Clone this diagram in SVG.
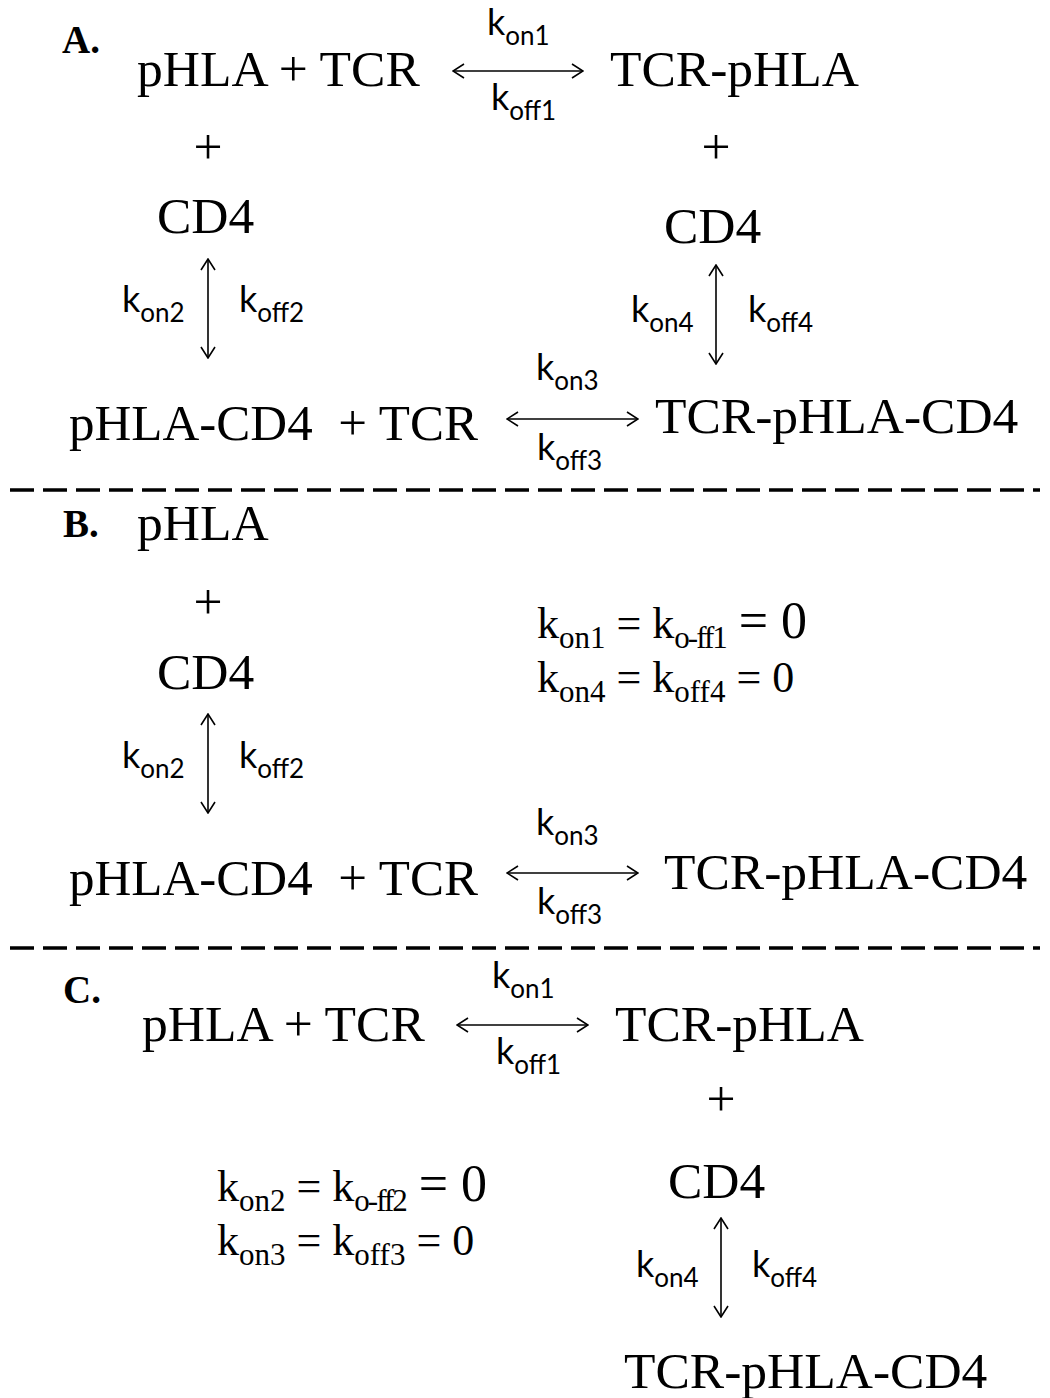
<svg xmlns="http://www.w3.org/2000/svg" width="1050" height="1398" viewBox="0 0 1050 1398">
<style>
.t{font-family:"Liberation Serif","Times New Roman",serif;font-size:51.5px;fill:#000;white-space:pre}
.t2{font-size:51px}
.lbl{font-family:"Liberation Serif","Times New Roman",serif;font-size:39px;font-weight:bold;fill:#000}
.k{font-family:Lato,"Open Sans",sans-serif;font-size:36px;fill:#000}
.ks{font-size:26px}
.eq{font-family:"Liberation Serif","Times New Roman",serif;font-size:44px;fill:#000;white-space:pre}
.es{font-size:31px}
.eb{font-size:52px}
.arr{stroke:#000;stroke-width:1.6;fill:none;marker-start:url(#ah);marker-end:url(#ah)}
.dash{stroke:#000;stroke-width:3.5;stroke-dasharray:24 9;fill:none}
</style>
<defs>
<marker id="ah" viewBox="0 0 13 16" refX="12" refY="8" markerWidth="13" markerHeight="16" markerUnits="userSpaceOnUse" orient="auto-start-reverse">
<path d="M1,1 L12,8 L1,15" fill="none" stroke="#000" stroke-width="1.6"/>
</marker>
</defs>
<rect width="1050" height="1398" fill="#fff"/>

<g id="connectors">
<line class="arr" x1="453" y1="71" x2="583" y2="71"/>
<line class="arr" x1="208" y1="259" x2="208" y2="358"/>
<line class="arr" x1="716" y1="265" x2="716" y2="364"/>
<line class="arr" x1="507" y1="419" x2="638" y2="419"/>
<line class="arr" x1="208" y1="714" x2="208" y2="813"/>
<line class="arr" x1="507" y1="873" x2="638" y2="873"/>
<line class="arr" x1="457" y1="1025" x2="588" y2="1025"/>
<line class="arr" x1="721" y1="1218" x2="721" y2="1317"/>
</g>

<g id="dividers">
<line class="dash" x1="10" y1="490" x2="1040" y2="490"/>
<line class="dash" x1="10" y1="948" x2="1040" y2="948"/>
</g>

<g id="sectionA">
<text id="labelA" class="lbl" x="62" y="53">A.</text>
<g id="A-pHLA-TCR"><text class="t" x="137" y="86">pHLA + TCR</text></g>
<g id="A-TCR-pHLA"><text class="t" x="610" y="86">TCR-pHLA</text></g>
<g id="A-plus1"><text class="t" x="208" y="164" text-anchor="middle">+</text></g>
<g id="A-plus2"><text class="t" x="716" y="164" text-anchor="middle">+</text></g>
<g id="A-CD4a"><text class="t" x="157" y="233">CD4</text></g>
<g id="A-CD4b"><text class="t" x="664" y="243">CD4</text></g>
<g id="A-pHLA-CD4-TCR"><text class="t t2" x="69" y="440">pHLA-CD4  + TCR</text></g>
<g id="A-TCR-pHLA-CD4"><text class="t" x="655" y="433">TCR-pHLA-CD4</text></g>
<text class="k" x="487" y="35">k<tspan class="ks" dy="10">on1</tspan></text>
<text class="k" x="491" y="110">k<tspan class="ks" dy="10">off1</tspan></text>
<text class="k" x="122" y="312">k<tspan class="ks" dy="10">on2</tspan></text>
<text class="k" x="239" y="312">k<tspan class="ks" dy="10">off2</tspan></text>
<text class="k" x="631" y="322">k<tspan class="ks" dy="10">on4</tspan></text>
<text class="k" x="748" y="322">k<tspan class="ks" dy="10">off4</tspan></text>
<text class="k" x="536" y="380">k<tspan class="ks" dy="10">on3</tspan></text>
<text class="k" x="537" y="460">k<tspan class="ks" dy="10">off3</tspan></text>
</g>

<g id="sectionB">
<text id="labelB" class="lbl" x="63" y="537">B.</text>
<g id="B-pHLA"><text class="t" x="137" y="540">pHLA</text></g>
<g id="B-plus"><text class="t" x="208" y="619" text-anchor="middle">+</text></g>
<g id="B-CD4"><text class="t" x="157" y="689">CD4</text></g>
<g id="B-pHLA-CD4-TCR"><text class="t t2" x="69" y="895">pHLA-CD4  + TCR</text></g>
<g id="B-TCR-pHLA-CD4"><text class="t" x="664" y="889">TCR-pHLA-CD4</text></g>
<text class="k" x="122" y="768">k<tspan class="ks" dy="10">on2</tspan></text>
<text class="k" x="239" y="768">k<tspan class="ks" dy="10">off2</tspan></text>
<text class="k" x="536" y="835">k<tspan class="ks" dy="10">on3</tspan></text>
<text class="k" x="537" y="914">k<tspan class="ks" dy="10">off3</tspan></text>
<g id="B-eq">
<text class="eq" x="537" y="638">k<tspan class="es" dy="10">on1</tspan><tspan dy="-10"> = k</tspan><tspan class="es" dy="10" letter-spacing="-2">o-ff1</tspan><tspan class="eb" dy="-10"> = 0</tspan></text>
<text class="eq" x="537" y="692">k<tspan class="es" dy="10">on4</tspan><tspan dy="-10"> = k</tspan><tspan class="es" dy="10">off4</tspan><tspan dy="-10"> = 0</tspan></text>
</g>
</g>

<g id="sectionC">
<text id="labelC" class="lbl" x="63" y="1003">C.</text>
<g id="C-pHLA-TCR"><text class="t" x="142" y="1041">pHLA + TCR</text></g>
<g id="C-TCR-pHLA"><text class="t" x="615" y="1041">TCR-pHLA</text></g>
<g id="C-plus"><text class="t" x="721" y="1116" text-anchor="middle">+</text></g>
<g id="C-CD4"><text class="t" x="668" y="1198">CD4</text></g>
<g id="C-TCR-pHLA-CD4"><text class="t" x="624" y="1388">TCR-pHLA-CD4</text></g>
<text class="k" x="492" y="988">k<tspan class="ks" dy="10">on1</tspan></text>
<text class="k" x="496" y="1064">k<tspan class="ks" dy="10">off1</tspan></text>
<text class="k" x="636" y="1277">k<tspan class="ks" dy="10">on4</tspan></text>
<text class="k" x="752" y="1277">k<tspan class="ks" dy="10">off4</tspan></text>
<g id="C-eq">
<text class="eq" x="217" y="1201">k<tspan class="es" dy="10">on2</tspan><tspan dy="-10"> = k</tspan><tspan class="es" dy="10" letter-spacing="-2">o-ff2</tspan><tspan class="eb" dy="-10"> = 0</tspan></text>
<text class="eq" x="217" y="1255">k<tspan class="es" dy="10">on3</tspan><tspan dy="-10"> = k</tspan><tspan class="es" dy="10">off3</tspan><tspan dy="-10"> = 0</tspan></text>
</g>
</g>
</svg>
